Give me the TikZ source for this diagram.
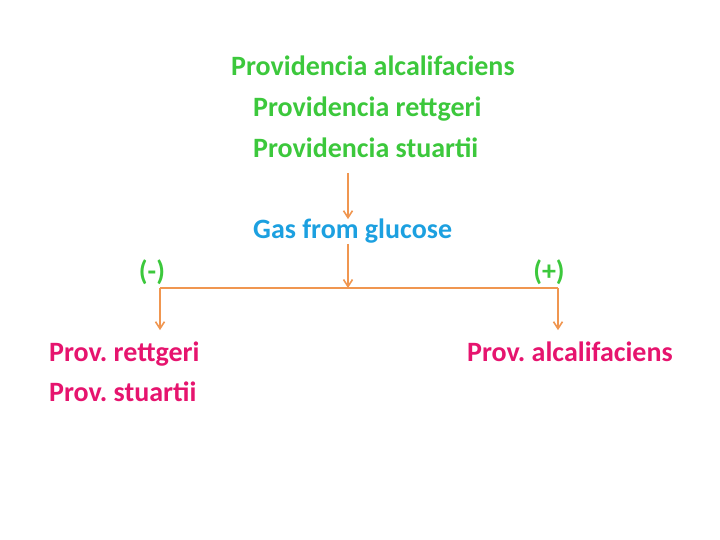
\documentclass[tikz,border=0pt]{standalone}
\usepackage{fontspec}
\setmainfont{Carlito}
\usetikzlibrary{arrows.meta,positioning}

\definecolor{provgreen}{RGB}{60,200,60}
\definecolor{testblue}{RGB}{28,160,224}
\definecolor{resultpink}{RGB}{230,20,110}
\definecolor{flowline}{RGB}{240,150,80}

\tikzset{
    genus/.style={text=provgreen, font=\fontsize{28}{34}\selectfont\bfseries\frenchspacing,
        anchor=base west, inner sep=0pt},
    test/.style={genus, text=testblue},
    outcome/.style={genus, anchor=base},
    result/.style={genus, text=resultpink},
    branch/.style={draw=flowline, line width=1.6pt},
    flow/.style={branch, -{Straight Barb[length=7pt,width=9pt]}}
}

\begin{document}
\begin{tikzpicture}[x=1pt, y=-1pt]
    \useasboundingbox (0,0) rectangle (720,540);

    % species to test
    \node[genus] (alcal) at (231,76) {Providencia alcalifaciens};
    \node[genus] (rett) at (253,117) {Providencia rettgeri};
    \node[genus] (stuart) at (253,158) {Providencia stuartii};
    \node[test] (gas) at (253,239) {Gas from glucose};

    \node[outcome] (neg) at (152,280) {(-)};
    \node[outcome] (pos) at (549,280) {(+)};

    \node[result] (negrett) at (49,361) {Prov. rettgeri};
    \node[result] (negstuart) at (49,401) {Prov. stuartii};
    \node[result] (posalcal) at (467,361) {Prov. alcalifaciens};

    \coordinate (drop) at (348,173);
    \coordinate (split) at (348,288);
    \coordinate (negturn) at (160,288);
    \coordinate (posturn) at (558,288);

    \draw[flow] (drop) -- (gas.north -| drop);
    \draw[flow] (gas.south -| split) -- (split);
    \draw[branch] (negturn) -- (posturn);
    \draw[flow, shorten >=11pt] (negturn) -- (negturn |- negrett.north);
    \draw[flow, shorten >=11pt] (posturn) -- (posturn |- posalcal.north);
\end{tikzpicture}
\end{document}
